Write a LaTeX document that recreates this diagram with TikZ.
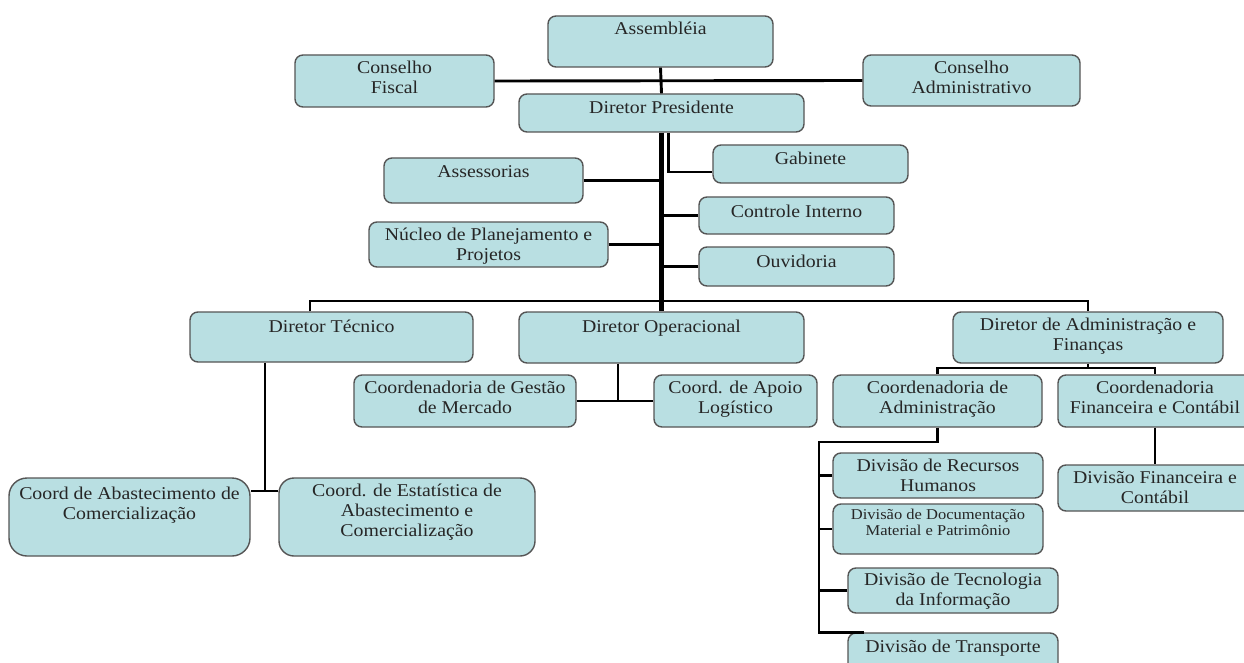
\documentclass[tikz,border=0pt]{standalone}
\usepackage{fontspec}
\setmainfont{Liberation Serif}[FakeStretch=1.1]
\usetikzlibrary{fit}
\definecolor{boxfill}{RGB}{185,223,226}
\definecolor{boxline}{RGB}{85,85,85}
\tikzset{
  box/.style={draw=boxline, fill=boxfill, line width=1.4pt, rounded corners=8pt, inner sep=0pt},
  lbl/.style={inner sep=0pt, align=center, text=black!85, font=\fontsize{18}{20}\selectfont, execute at begin node=\strut},
  smalllbl/.style={font=\fontsize{15}{15.5}\selectfont, yshift=0.5pt},
  conn/.style={draw=black, line width=2.9pt},
  thinconn/.style={draw=black, line width=2.2pt},
  spine/.style={draw=black, line width=5pt},
}
\begin{document}
\begin{tikzpicture}[x=1pt, y=-1pt]
\clip (0,0) rectangle (1244,663);
\fill[white] (0,0) rectangle (1244,663);
% boxes
\node[box, fit={(548,16) (773,67)}] (asm) {};
\node[box, fit={(295,55) (494,107)}] (cf) {};
\node[box, fit={(863,55) (1080,106)}] (cadmv) {};
\node[box, fit={(519,94) (804,132)}] (pres) {};
\node[box, fit={(713,145) (908,183)}] (gab) {};
\node[box, fit={(384,158) (583,203)}] (ass) {};
\node[box, fit={(699,197) (894,234)}] (ci) {};
\node[box, fit={(369,222) (608,267)}] (nuc) {};
\node[box, fit={(699,247) (894,286)}] (ouv) {};
\node[box, fit={(190,312) (473,362)}] (dt) {};
\node[box, fit={(519,312) (804,363)}] (dop) {};
\node[box, fit={(953,312) (1223,363)}] (dadm) {};
\node[box, fit={(354,375) (576,427)}] (cgm) {};
\node[box, fit={(654,375) (817,427)}] (cal) {};
\node[box, fit={(833,375) (1042,427)}] (cadm) {};
\node[box, fit={(1058,375) (1252,427)}] (cfin) {};
\node[box, rounded corners=18pt, fit={(9,478) (250,556)}] (cab) {};
\node[box, rounded corners=15pt, fit={(279,478) (535,556)}] (ces) {};
\node[box, fit={(1058,465) (1252,511)}] (dfin) {};
\node[box, fit={(833,453) (1043,498)}] (drh) {};
\node[box, fit={(833,504) (1043,554)}] (ddmp) {};
\node[box, fit={(848,568) (1058,613)}] (dti) {};
\node[box, fit={(848,633) (1058,680)}] (dtr) {};
% labels
\node[lbl, anchor=north] (asm-t) at ([yshift=-5pt]asm.north) {Assembléia};
\node[lbl, anchor=north] (cf-t) at ([yshift=-6.5pt]cf.north) {Conselho\\Fiscal};
\node[lbl, anchor=north] (cadmv-t) at ([yshift=-6.5pt]cadmv.north) {Conselho\\Administrativo};
\node[lbl, anchor=north] (pres-t) at ([yshift=-6.5pt]pres.north) {Diretor Presidente};
\node[lbl, anchor=north] (gab-t) at ([yshift=-6.5pt]gab.north) {Gabinete};
\node[lbl, anchor=north] (ass-t) at ([yshift=-6.5pt]ass.north) {Assessorias};
\node[lbl, anchor=north] (ci-t) at ([yshift=-6.5pt]ci.north) {Controle Interno};
\node[lbl, anchor=north] (nuc-t) at ([yshift=-6.5pt]nuc.north) {Núcleo de Planejamento e\\Projetos};
\node[lbl, anchor=north] (ouv-t) at ([yshift=-6.5pt]ouv.north) {Ouvidoria};
\node[lbl, anchor=north] (dt-t) at ([yshift=-6.5pt]dt.north) {Diretor Técnico};
\node[lbl, anchor=north] (dop-t) at ([yshift=-6.5pt]dop.north) {Diretor Operacional};
\node[lbl, anchor=north] (dadm-t) at ([yshift=-6.5pt]dadm.north) {Diretor de Administração e\\Finanças};
\node[lbl, anchor=north] (cgm-t) at ([yshift=-6.5pt]cgm.north) {Coordenadoria de Gestão\\de Mercado};
\node[lbl, anchor=north] (cal-t) at ([yshift=-6.5pt]cal.north) {Coord. de Apoio\\Logístico};
\node[lbl, anchor=north] (cadm-t) at ([yshift=-6.5pt]cadm.north) {Coordenadoria de\\Administração};
\node[lbl, anchor=north] (cfin-t) at ([yshift=-6.5pt]cfin.north) {Coordenadoria\\Financeira e Contábil};
\node[lbl, anchor=north] (cab-t) at ([yshift=-9.5pt]cab.north) {Coord de Abastecimento de\\Comercialização};
\node[lbl, anchor=north] (ces-t) at ([yshift=-6pt]ces.north) {Coord. de Estatística de\\Abastecimento e\\Comercialização};
\node[lbl, anchor=north] (dfin-t) at ([yshift=-6.5pt]dfin.north) {Divisão Financeira e\\Contábil};
\node[lbl, anchor=north] (drh-t) at ([yshift=-6.5pt]drh.north) {Divisão de Recursos\\Humanos};
\node[lbl, smalllbl, anchor=north] (ddmp-t) at ([yshift=-6.5pt]ddmp.north) {Divisão de Documentação\\Material e Patrimônio};
\node[lbl, anchor=north] (dti-t) at ([yshift=-6pt]dti.north) {Divisão de Tecnologia\\da Informação};
\node[lbl, anchor=north] (dtr-t) at ([yshift=-5.5pt]dtr.north) {Divisão de Transporte};
% junction coordinates
\coordinate (bus) at (661,301);
\coordinate (dtj) at (265,491);
\coordinate (dopj) at (618,401);
\coordinate (adj) at (1088,368);
\coordinate (caj) at (819,442);
% connectors
\draw[conn] (asm.south) -- (pres.north);
\draw[conn] (cf.east) -- (cadmv.west);
\draw[conn] (ass.east) -- (ass.east -| pres.south);
\draw[conn] (nuc.east) -- (nuc.east -| pres.south);
\draw[conn] (ci.west) -- (ci.west -| pres.south);
\draw[conn] (ouv.west) -- (ouv.west -| pres.south);
\draw[thinconn] ([xshift=7pt]pres.south) |- ([yshift=-8pt]gab.west);
\draw[spine] (pres.south) -- (dop.north);
\draw[conn] ([xshift=-21.5pt]dt.north) |- (bus) -| (dadm.north);
\draw[conn] (dt.south -| dtj) -- (dtj);
\draw[conn] (cab.east |- dtj) -- (ces.west |- dtj);
\draw[conn] (dop.south -| dopj) -- (dopj);
\draw[conn] (cgm.east |- dopj) -- (cal.west |- dopj);
\draw[conn] (dadm.south) -- (adj);
\draw[conn] (cadm.north) |- (adj) -| (cfin.north);
\draw[conn] (cfin.south) -- (dfin.north);
\draw[conn] (cadm.south) |- (caj) |- ([xshift=17pt]dtr.north west);
\draw[conn] (drh.west) -- (drh.west -| caj);
\draw[conn] (ddmp.west) -- (ddmp.west -| caj);
\draw[conn] (dti.west) -- (dti.west -| caj);
\end{tikzpicture}
\end{document}
